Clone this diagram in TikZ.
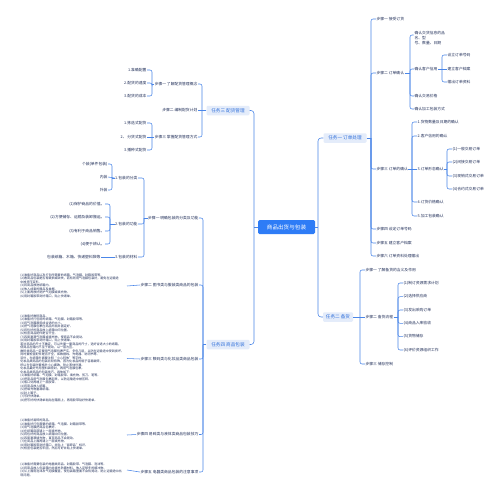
\documentclass[tikz,border=0pt]{standalone}
\usepackage{fontspec}
\setmainfont{Noto Sans CJK SC}
\XeTeXlinebreaklocale "zh"
\XeTeXlinebreakskip=0pt plus 1pt
\definecolor{ln}{HTML}{4A86E8}
\definecolor{tx}{HTML}{22305A}
\definecolor{tfill}{HTML}{E4ECFA}
\definecolor{tblue}{HTML}{2F6FDA}
\definecolor{cfill}{HTML}{2E7CF6}
\tikzset{
  lbl/.style={inner sep=0.4pt, text=tx, font=\fontsize{3.8pt}{4.6pt}\selectfont},
  lbR/.style={lbl, anchor=west},
  lbL/.style={lbl, anchor=east},
  blk/.style={inner sep=0.4pt, text=tx, font=\fontsize{3.05pt}{3.5pt}\selectfont, align=left, anchor=east, text width=106pt},
  task/.style={fill=tfill, text=tblue, rounded corners=1.2pt, minimum width=43pt, minimum height=9.5pt, inner sep=0.5pt, font=\fontsize{4.6pt}{5pt}\selectfont},
  rootbox/.style={fill=cfill, text=white, rounded corners=1.5pt, minimum width=57pt, minimum height=14pt, inner sep=0.5pt, font=\fontsize{5.6pt}{6pt}\selectfont},
  conn/.style={draw=ln, line width=0.55pt, rounded corners=2pt},
}
\newcommand\kidsR[3]{\draw[conn] (#1.east) -- (#1.east -| #2,0);
  \foreach \c in {#3}{\draw[conn] (#1.east -| #2,0) |- (\c.west);}}
\newcommand\kidsL[3]{\draw[conn] (#1.west) -- (#1.west -| #2,0);
  \foreach \c in {#3}{\draw[conn] (#1.west -| #2,0) |- (\c.east);}}
\begin{document}
\begin{tikzpicture}[x=1pt,y=-1pt]
\fill[white] (0,0) rectangle (500,498);
\useasboundingbox (0,0) rectangle (500,498);
% root and tasks
\node[rootbox] (root) at (286.5,227) {商品出货与包装};
\node[task] (t1) at (345,138) {任务一\ 订单处理};
\node[task,minimum width=30pt] (t2) at (338,317) {任务二\ 备货};
\node[task] (t3) at (228,110.5) {任务三\ 配货管理};
\node[task] (t4) at (228,344.5) {任务四\ 商品包装};
\draw[conn] (root.east) -- (318,227);
\draw[conn,rounded corners=3pt] (t1.west) -| (318,227) |- (t2.west);
\draw[conn] (root.west) -- (254,227);
\draw[conn,rounded corners=3pt] (t3.east) -| (254,227) |- (t4.east);
% ---------- task 1
\node[lbR] (s11) at (376,19) {步骤一\ 接受订货};
\node[lbR] (s12) at (376,73) {步骤二\ 订单确认};
\node[lbR] (s13) at (376,169) {步骤三\ 订单的确认};
\node[lbR] (s14) at (376,229) {步骤四\ 设定订单号码};
\node[lbR] (s15) at (376,243) {步骤五\ 建立客户档案};
\node[lbR] (s16) at (376,256) {步骤六\ 订单资料处理输出};
\kidsR{t1}{371}{s11,s12,s13,s14,s15,s16}
\node[lbl,anchor=north west,align=left,font=\fontsize{3.8pt}{4.7pt}\selectfont] (a1) at (414,31) {确认交货信息的品\\名、型\\号、数量、日期};
\coordinate (a1c) at (413.6,35);
\node[lbR] (a2) at (414,69) {确认客户信用};
\node[lbR] (a3) at (414,96) {确认交易价格};
\node[lbR] (a4) at (414,109) {确认加工包装方式};
\kidsR{s12}{410}{a2,a3,a4}
\draw[conn] (s12.east -| 410,0) |- (a1c);
\node[lbR] (c1) at (447,55) {设立订单号码};
\node[lbR] (c2) at (447,69) {建立客户档案};
\node[lbR] (c3) at (447,82) {输出订单资料};
\kidsR{a2}{442}{c1,c3}
\draw[conn] (a2.east) -- (c2.west);
\node[lbR] (d1) at (417,122) {1.货物数量及日期的确认};
\node[lbR] (d2) at (417,136) {2.客户信用的确认};
\node[lbR] (d3) at (417,169) {3.订单形态确认};
\node[lbR] (d4) at (417,202) {4.订货价格确认};
\node[lbR] (d5) at (417,216) {5.加工包装确认};
\kidsR{s13}{412}{d1,d2,d4,d5}
\draw[conn] (s13.east) -- (d3.west);
\node[lbR] (e1) at (452,149) {(1)一般交易订单};
\node[lbR] (e2) at (452,162) {(2)间接交易订单};
\node[lbR] (e3) at (452,176) {(3)现销式交易订单};
\node[lbR] (e4) at (452,189) {(4)合约式交易订单};
\kidsR{d3}{447}{e1,e2,e3,e4}
% ---------- task 2
\node[lbR] (f1) at (365,270) {步骤一\ 了解备货的含义及作用};
\node[lbR] (f2) at (365,317) {步骤二\ 备货流程};
\node[lbR] (f3) at (365,364) {步骤三\ 储存控制};
\kidsR{t2}{360}{f1,f3}
\draw[conn] (t2.east) -- (f2.west);
\node[lbR] (g1) at (403,283) {(1)制订资源需求计划};
\node[lbR] (g2) at (403,296.7) {(2)选择供应商};
\node[lbR] (g3) at (403,310) {(3)发出采购订单};
\node[lbR] (g4) at (403,323.3) {(4)商品入库验收};
\node[lbR] (g5) at (403,336.7) {(5)货物储存};
\node[lbR] (g6) at (403,350) {(6)评价资源组织工作};
\kidsR{f2}{398}{g1,g2,g3,g4,g5,g6}
% ---------- task 3
\node[lbL] (h1) at (198,84) {步骤一\ 了解配货管理概念};
\node[lbL] (h2) at (198,110.5) {步骤二\ 编制配货计划};
\node[lbL] (h3) at (198,137) {步骤三\ 掌握配货管理方式};
\kidsL{t3}{202}{h1,h3}
\draw[conn] (t3.west) -- (h2.east);
\node[lbL] (i1) at (147,70) {1.准确配置};
\node[lbL] (i2) at (147,83) {2.配货的速度};
\node[lbL] (i3) at (147,96) {3.配货的成本};
\kidsL{h1}{152}{i1,i2,i3}
\node[lbL] (j1) at (147,123) {1.拣选式配货};
\node[lbL] (j2) at (147,137) {2、\ 分货式配货};
\node[lbL] (j3) at (147,150) {3.播种式配货};
\kidsL{h3}{152}{j1,j3}
\draw[conn] (h3.west) -- (j2.east);
% ---------- task 4
\node[lbL] (k1) at (199,218) {步骤一\ 明确包装的分类及功能};
\node[lbL] (k2) at (199,285) {步骤二\ 图书类与服装类商品的包装};
\node[lbL] (k3) at (199,359) {步骤三\ 数码类与化妆品类商品包装};
\node[lbL] (k4) at (199,434.5) {步骤四\ 易碎类与液体类商品包装技巧};
\node[lbL] (k5) at (199,472) {步骤五\ 电器类商品包装的注意事项};
\kidsL{t4}{203}{k1,k2,k3,k4,k5}
\node[lbL] (l1) at (138,178) {1.包装的分类};
\node[lbL] (l2) at (138,224) {2.包装的功能};
\node[lbL] (l3) at (138,257) {3.包装的材料};
\kidsL{k1}{144}{l1,l2,l3}
\node[lbL] (m1) at (108,164) {个装(单件包装)};
\node[lbL] (m2) at (108,177) {内装};
\node[lbL] (m3) at (108,190) {外装};
\kidsL{l1}{112}{m1,m3}
\draw[conn] (l1.west) -- (m2.east);
\node[lbL] (n1) at (105,204) {(1)保护商品的价值。};
\node[lbL] (n2) at (105,217) {(2)方便储存、运输及装卸搬运。};
\node[lbL] (n3) at (105,231) {(3)有利于商品销售。};
\node[lbL] (n4) at (105,244) {(4)便于辨认。};
\kidsL{l2}{110}{n1,n2,n3,n4}
\node[lbL] (o1) at (101,257) {包装纸箱、木箱、快递塑料袋等};
\draw[conn] (l3.west) -- (o1.east);
% text blocks
\node[blk] (p2) at (127,286) {(1)准备好商品以及打包所需要的纸箱、气泡膜、封箱胶带等。\\
(2)看商品包装是否有破损或缺失，若有则用气泡膜包装好，避免在运输途\\
中被挤压变形。\\
(3)将商品放进纸箱内。\\
(4)放入成套的赠品及单据。\\
(5)上面再放好防护气泡膜或填充物。\\
(6)用封箱胶带封好箱口，贴上快递单。};
\node[blk] (p3) at (127,358.5) {(1)准备好数码商品。\\
(2)准备好打包用的纸箱、气泡膜、封箱胶带等。\\
(3)将气泡膜裁剪成合适的大小。\\
(4)把气泡膜包裹在商品外面并固定好。\\
(5)将包好的商品放入纸箱中间位置。\\
(6)检查商品配件是否齐全。\\
(7)四周塞满气泡膜或填充物，使商品不会晃动。\\
(8)用封箱胶带封好箱口，贴上快递单。\\
若对商品的尺寸不确定，可以先量一量商品的尺寸，选好合适大小的纸箱，\\
使商品在箱内不至于晃动，以一层为宜。\\
数码类商品一定要用气泡膜包裹严实，多包几层，以防在运输途中受到损坏。\\
同时要检查配件是否齐全，如数据线、充电器、说明书等。\\
另外，在纸箱外面要注明“小心轻放”等字样。\\
化妆品类商品的包装比较特殊，因为化妆品的瓶子容易破碎，\\
所以在包装时要格外小心细致，防止液体外漏。\\
化妆品最好先用塑料袋密封，再用气泡膜包裹。\\
化妆品类商品的包装技巧，具体如下:\\
(1)准备好纸箱、气泡膜、封箱胶带、填充物、剪刀、笔等。\\
(2)把商品用气泡膜包裹起来，以防运输途中被压碎。\\
(3)瓶口处再缠上一层胶带。\\
(4)将商品放入纸箱。\\
(5)把填充物塞满纸箱。\\
(6)封上箱子。\\
(7)写好快递单。\\
(8)把写好的快递单粘贴在箱面上，再用胶带贴好快递单。};
\node[blk] (p4) at (127,435) {(1)准备好易碎的商品。\\
(2)准备好打包需要的纸箱、气泡膜、封箱胶带等。\\
(3)用气泡膜把商品包裹好。\\
(4)在纸箱底部铺上一层填充物。\\
(5)将包好的商品放入纸箱中间位置。\\
(6)四周塞满填充物，直至商品不会晃动。\\
(7)在商品上面再铺上一层填充物。\\
(8)用封箱胶带封好箱口，并贴上“易碎品”标识。\\
(9)检查包装是否牢固，然后写好并贴上快递单。};
\node[blk] (p5) at (127,470) {(1)准备好需要包装的电器类商品、封箱胶带、气泡膜、泡沫等。\\
(2)将商品放入包装箱内并填充防震材料，放入足够多的缓冲物。\\
(3)从上面用泡沫及气泡膜覆盖，使包装箱里面不会有晃动，防止运输途中出\\
现问题。};
\draw[conn] (k2.west) -- (p2.east);
\draw[conn] (k3.west) -- (p3.east);
\draw[conn] (k4.west) -- (p4.east);
\draw[conn] (k5.west) -- (p5.east);
\end{tikzpicture}
\end{document}
